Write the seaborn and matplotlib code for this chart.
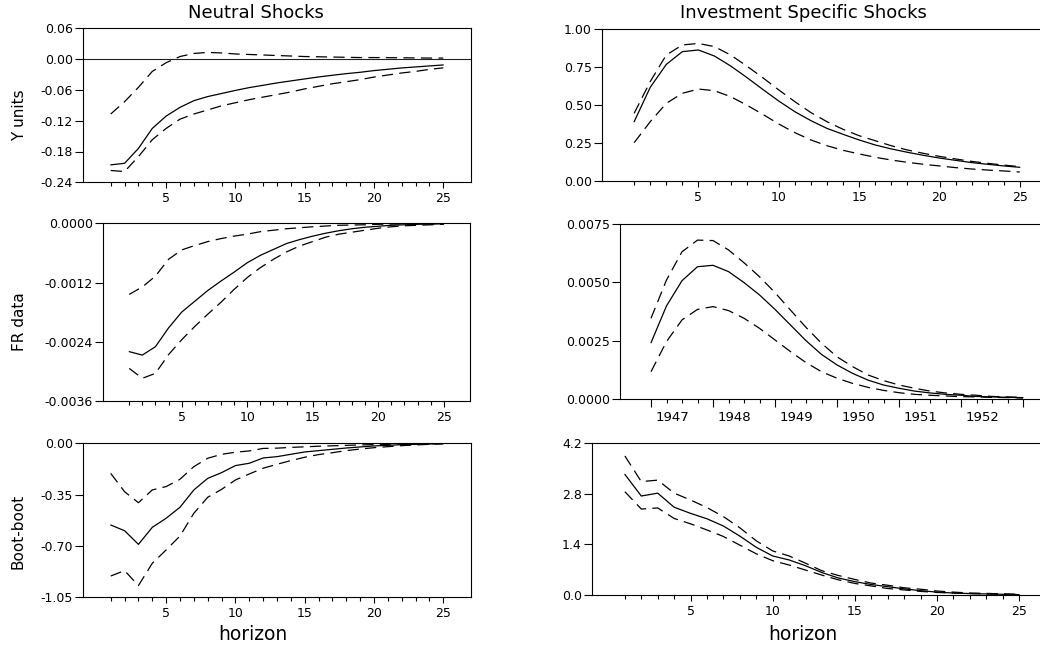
import matplotlib
matplotlib.use("Agg")
import numpy as np
import pandas as pd
import matplotlib.pyplot as plt
import matplotlib.transforms as mtransforms
from matplotlib.ticker import FixedLocator, FormatStrFormatter
import seaborn as sns

# ---------------- data ----------------
horizon = list(range(1, 26))
quarter_years = [1947 + q / 4 for q in range(25)]
year_ticks = [1947, 1948, 1949, 1950, 1951, 1952, 1953]
year_labels = ["1947", "1948", "1949", "1950", "1951", "1952", ""]

col_titles = ["Neutral Shocks", "Investment Specific Shocks"]
row_labels = ["Y units", "FR data", "Boot-boot"]
x_label = "horizon"

# Neutral shocks, Y units
n_y_mid = [-0.206, -0.203, -0.174, -0.135, -0.111, -0.094, -0.081, -0.073, -0.067, -0.061,
           -0.0555, -0.051, -0.0464, -0.0425, -0.0386, -0.0348, -0.0315, -0.0283, -0.0257, -0.0224,
           -0.0198, -0.0172, -0.0153, -0.0133, -0.0114]
n_y_up = [-0.107, -0.083, -0.055, -0.024, -0.007, 0.005, 0.011, 0.013, 0.012, 0.010,
          0.009, 0.008, 0.007, 0.006, 0.005, 0.0045, 0.004, 0.0035, 0.003, 0.003,
          0.0028, 0.0025, 0.0023, 0.002, 0.002]
n_y_lo = [-0.217, -0.219, -0.190, -0.157, -0.135, -0.117, -0.107, -0.099, -0.091, -0.085,
          -0.079, -0.074, -0.069, -0.064, -0.058, -0.053, -0.048, -0.044, -0.040, -0.035,
          -0.031, -0.027, -0.024, -0.020, -0.017]

# Investment specific shocks, Y units
i_y_mid = [0.39, 0.616, 0.767, 0.851, 0.862, 0.822, 0.757, 0.682, 0.603, 0.526,
           0.456, 0.397, 0.346, 0.307, 0.270, 0.237, 0.211, 0.189, 0.169, 0.151,
           0.136, 0.121, 0.110, 0.099, 0.090]
i_y_up = [0.445, 0.654, 0.829, 0.895, 0.905, 0.884, 0.829, 0.757, 0.680, 0.599,
          0.522, 0.450, 0.390, 0.340, 0.298, 0.265, 0.232, 0.204, 0.182, 0.162,
          0.145, 0.129, 0.116, 0.105, 0.094]
i_y_lo = [0.252, 0.390, 0.511, 0.577, 0.605, 0.594, 0.555, 0.500, 0.439, 0.375,
          0.318, 0.270, 0.232, 0.202, 0.178, 0.156, 0.138, 0.123, 0.110, 0.099,
          0.088, 0.079, 0.072, 0.066, 0.059]

# Neutral shocks, FR data
n_fr_mid = [-0.00260, -0.00267, -0.00250, -0.00212, -0.00180, -0.00158, -0.00136, -0.00117, -0.00099, -0.00080,
            -0.00065, -0.00053, -0.00041, -0.00033, -0.00026, -0.00020, -0.00015, -0.00011, -0.00008, -0.00006,
            -0.00004, -0.00003, -0.00002, -0.000015, -0.00001]
n_fr_up = [-0.00144, -0.00129, -0.00107, -0.00073, -0.00054, -0.00045, -0.00037, -0.00031, -0.00026, -0.00022,
           -0.00017, -0.00014, -0.00011, -0.00009, -0.00007, -0.000055, -0.00004, -0.000035, -0.00003, -0.00002,
           -0.000015, -0.00001, -0.00001, -0.000008, -0.000005]
n_fr_lo = [-0.00294, -0.00314, -0.00304, -0.00266, -0.00236, -0.00209, -0.00184, -0.00160, -0.00134, -0.00110,
           -0.00090, -0.00073, -0.00058, -0.00046, -0.00037, -0.00028, -0.00022, -0.00018, -0.00014, -0.00010,
           -0.00007, -0.00005, -0.00004, -0.00003, -0.00002]

# Investment specific shocks, FR data (quarterly dates)
i_fr_mid = [0.00241, 0.00399, 0.00507, 0.00567, 0.00573, 0.00546, 0.00499, 0.00446, 0.00384, 0.00317,
            0.00250, 0.00191, 0.00146, 0.00110, 0.00081, 0.00060, 0.00046, 0.00034, 0.00026, 0.00020,
            0.00016, 0.00011, 0.00009, 0.00007, 0.00006]
i_fr_up = [0.00346, 0.00510, 0.00631, 0.00681, 0.00679, 0.00639, 0.00584, 0.00524, 0.00456, 0.00381,
           0.00307, 0.00239, 0.00181, 0.00139, 0.00103, 0.00079, 0.00060, 0.00046, 0.00034, 0.00026,
           0.00020, 0.00016, 0.00011, 0.00009, 0.00007]
i_fr_lo = [0.00117, 0.00246, 0.00339, 0.00384, 0.00396, 0.00379, 0.00346, 0.00303, 0.00253, 0.00203,
           0.00156, 0.00117, 0.00089, 0.00067, 0.00050, 0.00037, 0.00027, 0.00020, 0.00016, 0.00013,
           0.00010, 0.00009, 0.00007, 0.00006, 0.00004]

# Neutral shocks, Boot-boot
n_bb_mid = [-0.557, -0.596, -0.689, -0.573, -0.511, -0.436, -0.318, -0.239, -0.200, -0.152,
            -0.136, -0.100, -0.091, -0.075, -0.059, -0.050, -0.041, -0.032, -0.025, -0.018,
            -0.014, -0.009, -0.007, -0.005, -0.002]
n_bb_up = [-0.205, -0.330, -0.405, -0.318, -0.295, -0.245, -0.159, -0.102, -0.075, -0.061,
           -0.052, -0.035, -0.033, -0.028, -0.024, -0.020, -0.017, -0.014, -0.011, -0.009,
           -0.007, -0.005, -0.004, -0.003, -0.002]
n_bb_lo = [-0.905, -0.868, -0.970, -0.818, -0.727, -0.632, -0.477, -0.368, -0.314, -0.250,
           -0.209, -0.170, -0.143, -0.118, -0.095, -0.077, -0.064, -0.050, -0.039, -0.030,
           -0.023, -0.016, -0.011, -0.007, -0.003]

# Investment specific shocks, Boot-boot
i_bb_mid = [3.34, 2.74, 2.82, 2.43, 2.26, 2.11, 1.91, 1.63, 1.32, 1.08,
            0.97, 0.81, 0.62, 0.47, 0.37, 0.29, 0.23, 0.17, 0.12, 0.08,
            0.055, 0.04, 0.03, 0.02, 0.01]
i_bb_up = [3.85, 3.14, 3.18, 2.82, 2.63, 2.42, 2.17, 1.86, 1.50, 1.22,
           1.08, 0.88, 0.67, 0.54, 0.43, 0.33, 0.27, 0.20, 0.16, 0.11,
           0.08, 0.055, 0.045, 0.03, 0.02]
i_bb_lo = [2.86, 2.38, 2.41, 2.12, 1.97, 1.80, 1.62, 1.38, 1.14, 0.95,
           0.83, 0.69, 0.55, 0.42, 0.32, 0.25, 0.18, 0.14, 0.10, 0.07,
           0.055, 0.04, 0.03, 0.02, 0.01]

# ---------------- style ----------------
sns.set_theme(style="white")
plt.rcParams["font.family"] = ["DejaVu Sans"]
plt.rcParams["axes.unicode_minus"] = False
plt.rcParams["axes.edgecolor"] = "black"
plt.rcParams["axes.linewidth"] = 0.8
plt.rcParams["xtick.color"] = "black"
plt.rcParams["ytick.color"] = "black"
plt.rcParams["text.color"] = "black"

W, H = 1040, 647
fig = plt.figure(figsize=(W / 100, H / 100), dpi=100)
fig.patch.set_facecolor("white")


def add_ax(left, right, top, bottom):
    return fig.add_axes([left / W, 1 - bottom / H, (right - left) / W, (bottom - top) / H])


DASH = (9, 5)


def draw(ax, x, mid, up, lo):
    df = pd.DataFrame({
        "x": list(x) * 3,
        "value": list(mid) + list(up) + list(lo),
        "band": ["mid"] * len(mid) + ["upper"] * len(up) + ["lower"] * len(lo),
    })
    sns.lineplot(data=df, x="x", y="value", style="band", units="band", estimator=None,
                 dashes={"mid": "", "upper": DASH, "lower": DASH},
                 color="black", linewidth=0.9, legend=False, ax=ax)
    ax.set_xlabel("")
    ax.set_ylabel("")


def common_ticks(ax):
    ax.tick_params(axis="x", which="major", direction="out", length=4.2, width=0.8,
                   labelsize=9, pad=3, bottom=True, top=False)
    ax.tick_params(axis="x", which="minor", direction="out", length=2.6, width=0.8,
                   bottom=True, top=False)
    ax.tick_params(axis="y", which="major", direction="out", length=5.8, width=0.8,
                   labelsize=9, pad=1.5, left=True, right=False)
    for s in ax.spines.values():
        s.set_visible(True)
        s.set_color("black")
        s.set_linewidth(0.8)


def style_horizon(ax, ylim, yticks, fmt):
    ax.set_xlim(-1, 27)
    ax.set_ylim(*ylim)
    ax.xaxis.set_major_locator(FixedLocator([5, 10, 15, 20, 25]))
    ax.xaxis.set_minor_locator(FixedLocator(horizon))
    ax.yaxis.set_major_locator(FixedLocator(yticks))
    ax.yaxis.set_major_formatter(FormatStrFormatter(fmt))
    common_ticks(ax)


# Top-left
ax = add_ax(83, 471, 28.3, 182.3)
ax.axhline(0, color="#222222", linewidth=0.8)
draw(ax, horizon, n_y_mid, n_y_up, n_y_lo)
style_horizon(ax, (-0.24, 0.06), [-0.24, -0.18, -0.12, -0.06, 0.0, 0.06], "%.2f")

# Top-right
ax = add_ax(602, 1052, 29, 181)
draw(ax, horizon, i_y_mid, i_y_up, i_y_lo)
style_horizon(ax, (0, 1.0), [0.0, 0.25, 0.5, 0.75, 1.0], "%.2f")

# Middle-left
ax = add_ax(103, 470, 223.3, 401)
draw(ax, horizon, n_fr_mid, n_fr_up, n_fr_lo)
style_horizon(ax, (-0.0036, 0.0), [-0.0036, -0.0024, -0.0012, 0.0], "%.4f")

# Middle-right (quarterly dates)
ax = add_ax(620, 1054, 224, 399)
draw(ax, quarter_years, i_fr_mid, i_fr_up, i_fr_lo)
ax.set_xlim(1946.5, 1953.5)
ax.set_ylim(0, 0.0075)
ax.xaxis.set_major_locator(FixedLocator(year_ticks))
ax.set_xticklabels(year_labels)
ax.xaxis.set_minor_locator(FixedLocator(quarter_years))
ax.yaxis.set_major_locator(FixedLocator([0.0, 0.0025, 0.005, 0.0075]))
ax.yaxis.set_major_formatter(FormatStrFormatter("%.4f"))
common_ticks(ax)
ax.tick_params(axis="x", which="major", length=5.8, pad=2.5, labelsize=9.5)
ax.tick_params(axis="x", which="minor", length=2.8)
offset = mtransforms.ScaledTranslation(0.05, 0, fig.dpi_scale_trans)
for lab in ax.get_xticklabels():
    lab.set_horizontalalignment("left")
    lab.set_transform(lab.get_transform() + offset)

# Bottom-left
ax = add_ax(83, 471, 443.3, 597.3)
draw(ax, horizon, n_bb_mid, n_bb_up, n_bb_lo)
style_horizon(ax, (-1.05, 0.0), [-1.05, -0.70, -0.35, 0.0], "%.2f")

# Bottom-right
ax = add_ax(592, 1052, 443.3, 595)
draw(ax, horizon, i_bb_mid, i_bb_up, i_bb_lo)
style_horizon(ax, (0, 4.2), [0.0, 1.4, 2.8, 4.2], "%.1f")

# Texts
fig.text(256 / W, 1 - 13 / H, col_titles[0], ha="center", va="center", fontsize=13)
fig.text(803 / W, 1 - 13 / H, col_titles[1], ha="center", va="center", fontsize=13)
fig.text(20 / W, 1 - 115 / H, row_labels[0], rotation=90, ha="center", va="center", fontsize=11)
fig.text(20 / W, 1 - 322 / H, row_labels[1], rotation=90, ha="center", va="center", fontsize=11)
fig.text(18 / W, 1 - 531 / H, row_labels[2], rotation=90, ha="center", va="center", fontsize=11)
fig.text(253 / W, 1 - 635 / H, x_label, ha="center", va="center", fontsize=13.5)
fig.text(803 / W, 1 - 635 / H, x_label, ha="center", va="center", fontsize=13.5)

fig.savefig("out.png", dpi=100, facecolor="white")
